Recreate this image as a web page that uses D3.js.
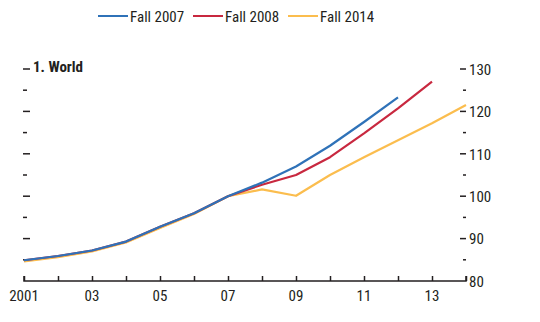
<!DOCTYPE html>
<html><head><meta charset="utf-8">
<script src="https://cdn.jsdelivr.net/npm/d3@7"></script>
<style>
body{margin:0;background:#fff;}
text{font-family:"Liberation Sans Narrow","Arial Narrow","Roboto Condensed","Liberation Sans",sans-serif;fill:#231f20;}
</style></head>
<body><svg id="c" width="540" height="322"></svg>
<script>
const years = [2001,2002,2003,2004,2005,2006,2007,2008,2009,2010,2011,2012,2013,2014];
const xTickLabels = ["2001","03","05","07","09","11","13"];
const seriesNames = ["Fall 2007","Fall 2008","Fall 2014"];
const seriesColors = ["#2f72b8","#c8283f","#fbbd4e"];
const fall2007 = [84.9,85.9,87.2,89.3,92.8,96.0,100.0,103.2,107.0,111.9,117.5,123.3];
const fall2008 = [84.9,85.9,87.2,89.3,92.8,96.0,100.0,102.7,105.0,109.2,114.8,120.7,127.0];
const fall2014 = [84.6,85.6,87.0,89.1,92.5,95.8,100.0,101.6,100.1,105.0,109.2,113.2,117.2,121.5];
const yMajor = [80,90,100,110,120,130];
const yMinor = [85,95,105,115,125];
const title = "1. World";

const svg = d3.select("#c");
const x = d3.scaleLinear().domain([2001,2014]).range([24,466]);
const y = d3.scaleLinear().domain([80,130]).range([281,69]);
const ink = "#231f20";

// x axis
const xa = svg.append("g").attr("transform","translate(0,281)")
  .call(d3.axisTop(x).tickValues(years).tickSize(5).tickFormat(""));
xa.select(".domain").attr("d",`M${x(2001)},-5V0H${x(2014)}V-5`).attr("stroke",ink).attr("stroke-width",1.5);
xa.selectAll(".tick line").attr("stroke",ink).attr("stroke-width",1.5);
svg.append("g").selectAll("text").data(xTickLabels).join("text")
  .attr("x",(d,i)=>x(2001+2*i)).attr("y",301).attr("text-anchor","middle")
  .attr("font-size",15).text(d=>d);

// right axis
const ra = svg.append("g").attr("transform",`translate(466,0)`)
  .call(d3.axisRight(y).tickValues(yMajor).tickSize(0).tickPadding(3));
ra.select(".domain").remove();
ra.selectAll("text").attr("font-size",15).attr("dy","0.35em").style("font-family",null);
svg.append("g").selectAll("line").data(yMajor.filter(v=>v>80)).join("line")
  .attr("x1",460).attr("x2",466).attr("y1",d=>y(d)).attr("y2",d=>y(d)).attr("stroke",ink).attr("stroke-width",1.5);
svg.append("g").selectAll("line").data(yMinor).join("line")
  .attr("x1",463).attr("x2",466).attr("y1",d=>y(d)).attr("y2",d=>y(d)).attr("stroke",ink).attr("stroke-width",1.5);

// left ticks
svg.append("g").selectAll("line").data(yMajor.filter(v=>v>80)).join("line")
  .attr("x1",23).attr("x2",30).attr("y1",d=>y(d)).attr("y2",d=>y(d)).attr("stroke",ink).attr("stroke-width",1.5);
svg.append("g").selectAll("line").data(yMinor).join("line")
  .attr("x1",23).attr("x2",27).attr("y1",d=>y(d)).attr("y2",d=>y(d)).attr("stroke",ink).attr("stroke-width",1.5);

// title
svg.append("text").attr("x",33).attr("y",72).attr("font-size",15).attr("font-weight","bold").text(title);

// lines
const line = d3.line().x((d,i)=>x(years[i])).y(d=>y(d));
[fall2014,fall2008,fall2007].forEach((s,k)=>{
  const idx = 2-k;
  svg.append("path").datum(s).attr("d",line).attr("fill","none")
    .attr("stroke",seriesColors[idx]).attr("stroke-width",2.2).attr("stroke-linejoin","round");
});

// legend
const lx = [98,193,288];
const lg = svg.append("g");
seriesNames.forEach((n,i)=>{
  lg.append("line").attr("x1",lx[i]).attr("x2",lx[i]+30).attr("y1",16).attr("y2",16)
    .attr("stroke",seriesColors[i]).attr("stroke-width",2);
  lg.append("text").attr("x",lx[i]+32).attr("y",22).attr("font-size",15).text(n);
});
</script></body></html>
